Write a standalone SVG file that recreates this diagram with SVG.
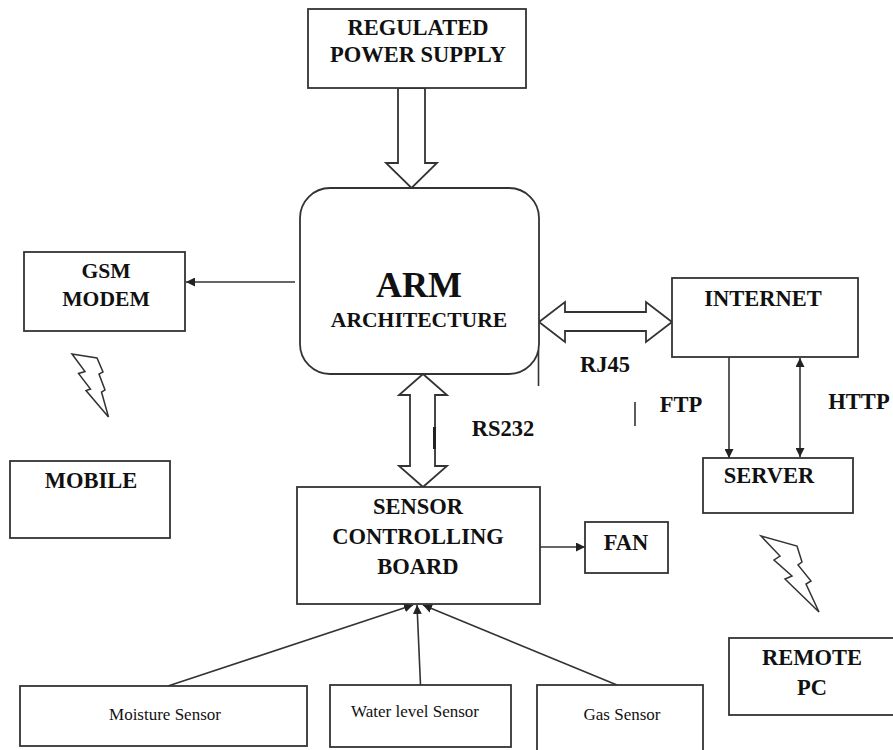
<svg xmlns="http://www.w3.org/2000/svg" width="893" height="750" viewBox="0 0 893 750">
<defs>
<style>
.box{fill:#fff;stroke:#333;stroke-width:1.8}
.t{font-family:'Liberation Serif','DejaVu Serif',serif;font-weight:bold;font-size:22.5px;fill:#111;text-anchor:middle}
.s{font-family:'Liberation Serif','DejaVu Serif',serif;font-size:17px;fill:#111;text-anchor:middle}
.ln{fill:none;stroke:#333;stroke-width:1.6}
.hol{fill:#fff;stroke:#333;stroke-width:1.8;stroke-linejoin:miter}
</style>
<marker id="ah" viewBox="0 0 10 10" refX="10" refY="5" markerWidth="9" markerHeight="9" markerUnits="userSpaceOnUse" orient="auto-start-reverse">
<path d="M0,0 L10,5 L0,10 z" fill="#222"/>
</marker>
</defs>
<rect width="893" height="750" fill="#fff"/>

<g id="connectors">
<polygon class="hol" points="398,88 425,88 425,163 437,163 411.5,188 386,163 398,163"/>
<polygon class="hol" points="423,374 447,395 435,395 435,466 447,466 423,487 399,466 410,466 410,395 399,395"/>
<polygon class="hol" points="539,322 565,302 565,312 646,312 646,302 672,322 646,342 646,331 565,331 565,342"/>
<line class="ln" x1="295" y1="282" x2="186" y2="282" marker-end="url(#ah)"/>
<line class="ln" x1="540" y1="547" x2="585" y2="547" marker-end="url(#ah)"/>
<line class="ln" x1="729" y1="357" x2="729" y2="458" marker-end="url(#ah)"/>
<line class="ln" x1="800" y1="358" x2="800" y2="457" marker-start="url(#ah)" marker-end="url(#ah)"/>
<line class="ln" x1="168" y1="686" x2="413" y2="605" marker-end="url(#ah)"/>
<line class="ln" x1="420.5" y1="685" x2="417" y2="605" marker-end="url(#ah)"/>
<line class="ln" x1="617" y1="685" x2="423" y2="605" marker-end="url(#ah)"/>
<line class="ln" x1="538.5" y1="350" x2="538.5" y2="386"/>
<line class="ln" x1="635" y1="402" x2="635" y2="426"/>
<line x1="434.5" y1="427" x2="434.5" y2="449" stroke="#222" stroke-width="3"/>
</g>

<g id="power">
<rect class="box" x="308" y="9" width="218" height="79"/>
<text class="t" x="418" y="35" font-size="21.6">REGULATED</text>
<text class="t" x="418" y="62">POWER SUPPLY</text>
</g>

<g id="arm">
<rect class="box" x="300" y="188" width="239" height="186" rx="30" ry="30"/>
<text class="t" x="419" y="297" style="font-size:36px">ARM</text>
<text class="t" x="419" y="327" style="font-size:21.6px">ARCHITECTURE</text>
</g>

<g id="gsm">
<rect class="box" x="24" y="252" width="161" height="79"/>
<text class="t" x="106" y="278" style="font-size:21.6px">GSM</text>
<text class="t" x="106" y="306" style="font-size:21.6px">MODEM</text>
</g>

<g id="gsm-wireless">
<polygon class="hol" style="stroke-width:1.5" points="72,354 97,358 103,372 99,374 105,390 101.5,392 108.5,417 86,390.5 90.5,389 78.5,373.5 85,371.5"/>
</g>

<g id="mobile">
<rect class="box" x="10" y="461" width="160" height="77"/>
<text class="t" x="91" y="488">MOBILE</text>
</g>

<g id="internet">
<rect class="box" x="672" y="278" width="186" height="79"/>
<text class="t" x="763" y="306">INTERNET</text>
</g>

<g id="labels">
<text class="t" x="605" y="372">RJ45</text>
<text class="t" x="681" y="412">FTP</text>
<text class="t" x="859" y="409">HTTP</text>
<text class="t" x="503" y="436">RS232</text>
</g>

<g id="server">
<rect class="box" x="703" y="458" width="150" height="55"/>
<text class="t" x="769" y="483">SERVER</text>
</g>

<g id="server-wireless">
<polygon class="hol" style="stroke-width:1.5" points="761,536 797,546 802,562 798,565 811,581 806,584 819,612 785,579 792,576 774,560 780,556"/>
</g>

<g id="remote">
<rect class="box" x="729" y="638" width="170" height="77"/>
<text class="t" x="812" y="665">REMOTE</text>
<text class="t" x="812" y="695">PC</text>
</g>

<g id="scb">
<rect class="box" x="297" y="487" width="243" height="117"/>
<text class="t" x="418" y="514">SENSOR</text>
<text class="t" x="418" y="544">CONTROLLING</text>
<text class="t" x="418" y="574">BOARD</text>
</g>

<g id="fan">
<rect class="box" x="585" y="522" width="83" height="51"/>
<text class="t" x="626" y="550">FAN</text>
</g>

<g id="moisture">
<rect class="box" x="20" y="686" width="287" height="60"/>
<text class="s" x="165" y="720">Moisture Sensor</text>
</g>

<g id="water">
<rect class="box" x="330" y="685" width="181" height="62"/>
<text class="s" x="415" y="717">Water level Sensor</text>
</g>

<g id="gas">
<rect class="box" x="537" y="685" width="166" height="70"/>
<text class="s" x="622" y="720">Gas Sensor</text>
</g>
</svg>
